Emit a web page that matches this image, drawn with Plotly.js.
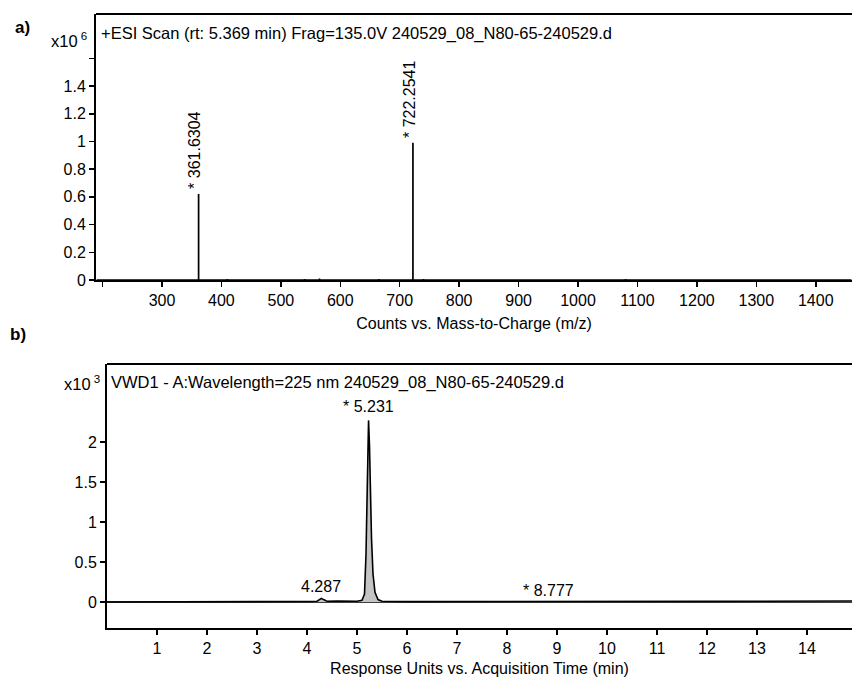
<!DOCTYPE html>
<html>
<head>
<meta charset="utf-8">
<script src="https://cdn.plot.ly/plotly-3.0.1.min.js"></script>
<style>html,body{margin:0;padding:0;background:#fff;}#chart{width:852px;height:684px;}</style>
</head>
<body>
<div id="chart"></div>
<script>
// ---- Panel a: mass spectrum (x10^6 counts) ----
const msPeakMz = [361.6304, 722.2541];
const msPeakInt = [0.62, 0.99];
const msPeakLabels = ["361.6304", "722.2541"];
const msNoiseMz = [230, 275, 410, 455, 540, 565, 620, 665, 740, 920, 1080, 1390];
const msNoiseInt = [0.006, 0.005, 0.008, 0.006, 0.007, 0.01, 0.006, 0.007, 0.008, 0.006, 0.007, 0.006];
const msTickVals = [0, 0.2, 0.4, 0.6, 0.8, 1, 1.2, 1.4];
const msMinorY = [1.6];
const msXTicks = [300, 400, 500, 600, 700, 800, 900, 1000, 1100, 1200, 1300, 1400];
const msMinorX = [200];

// ---- Panel b: UV chromatogram (x10^3 response units) ----
const lcTime = [0, 1, 2, 3, 3.5, 4.0, 4.2, 4.25, 4.287, 4.33, 4.4, 4.6, 4.8, 5.0, 5.1, 5.15, 5.18, 5.2, 5.215, 5.231, 5.25, 5.27, 5.29, 5.32, 5.36, 5.42, 5.5, 6, 7, 8, 8.777, 9, 10, 11, 12, 13, 14, 15];
const lcResp = [0, 0, 0, 0.003, 0.005, 0.006, 0.01, 0.03, 0.045, 0.03, 0.01, 0.012, 0.008, 0.01, 0.02, 0.1, 0.6, 1.5, 2.05, 2.27, 1.95, 1.35, 0.8, 0.35, 0.12, 0.03, 0.01, 0.005, 0.004, 0.004, 0.008, 0.006, 0.004, 0.006, 0.008, 0.01, 0.014, 0.012];
const lcPeakTimes = [4.287, 5.231, 8.777];
const lcPeakLabels = ["4.287", "* 5.231", "* 8.777"];
const lcPeakLabelY = [0.2, 2.45, 0.15];
const lcYTicks = [0, 0.5, 1, 1.5, 2];
const lcXTicks = [1, 2, 3, 4, 5, 6, 7, 8, 9, 10, 11, 12, 13, 14];

// build stick spectrum
const sx = [], sy = [];
const allMz = msNoiseMz.concat(msPeakMz), allInt = msNoiseInt.concat(msPeakInt);
const order = allMz.map((m, i) => i).sort((a, b) => allMz[a] - allMz[b]);
sx.push(190); sy.push(0);
order.forEach(i => { sx.push(allMz[i], allMz[i], allMz[i]); sy.push(0, allInt[i], 0); });
sx.push(1460); sy.push(0);

const W = 852, H = 684;
const px = v => v / W, py = v => 1 - v / H;
const FONT = "Liberation Sans, Arial, sans-serif";

const traces = [
  {x: sx, y: sy, type: "scatter", mode: "lines", line: {color: "#000", width: 1.7}, xaxis: "x", yaxis: "y", hoverinfo: "skip", showlegend: false},
  {x: lcTime, y: lcResp, type: "scatter", mode: "lines", fill: "tozeroy", fillcolor: "#c4c4c4", line: {color: "#000", width: 1.6}, xaxis: "x2", yaxis: "y2", showlegend: false}
];

const annotations = [
  {text: "<b>a)</b>", xref: "paper", yref: "paper", x: px(13), y: py(27), xanchor: "left", yanchor: "middle", showarrow: false, font: {size: 17, family: FONT, color: "#000"}},
  {text: "<b>b)</b>", xref: "paper", yref: "paper", x: px(8), y: py(335), xanchor: "left", yanchor: "middle", showarrow: false, font: {size: 17, family: FONT, color: "#000"}},
  {text: "x10<sup> 6</sup>", xref: "paper", yref: "paper", x: px(89), y: py(40), xanchor: "right", yanchor: "middle", showarrow: false, font: {size: 16.5, family: FONT, color: "#000"}},
  {text: "x10<sup> 3</sup>", xref: "paper", yref: "paper", x: px(102), y: py(383), xanchor: "right", yanchor: "middle", showarrow: false, font: {size: 16.5, family: FONT, color: "#000"}},
  {text: "+ESI Scan (rt: 5.369 min) Frag=135.0V 240529_08_N80-65-240529.d", xref: "paper", yref: "paper", x: px(99), y: py(33), xanchor: "left", yanchor: "middle", showarrow: false, font: {size: 16.5, family: FONT, color: "#000"}},
  {text: "VWD1 - A:Wavelength=225 nm 240529_08_N80-65-240529.d", xref: "paper", yref: "paper", x: px(109), y: py(382), xanchor: "left", yanchor: "middle", showarrow: false, font: {size: 16.5, family: FONT, color: "#000"}}
];
msPeakMz.forEach((m, i) => annotations.push({
  text: "* " + msPeakLabels[i], xref: "x", yref: "y", x: m, y: msPeakInt[i] + 0.02, textangle: -90,
  xanchor: "center", yanchor: "bottom", xshift: -4, showarrow: false, font: {size: 16, family: FONT, color: "#000"}
}));
lcPeakTimes.forEach((t, i) => annotations.push({
  text: lcPeakLabels[i], xref: "x2", yref: "y2", x: t, y: lcPeakLabelY[i],
  xanchor: "center", yanchor: "middle", xshift: i === 2 ? 3 : 0, showarrow: false, font: {size: 16, family: FONT, color: "#000"}
}));

const axisCommon = {showgrid: false, zeroline: false, showline: true, linecolor: "#000", linewidth: 2, ticks: "outside", ticklen: 5, tickwidth: 1.5, tickcolor: "#000", tickfont: {size: 16, family: FONT, color: "#000"}, fixedrange: true};
const minorCommon = {ticks: "outside", ticklen: 5, tickwidth: 1.5, tickcolor: "#000", showgrid: false};

const layout = {
  width: W, height: H, margin: {l: 0, r: 0, t: 0, b: 0}, paper_bgcolor: "#fff", plot_bgcolor: "#fff",
  font: {family: FONT, color: "#000"},
  xaxis: Object.assign({}, axisCommon, {domain: [px(96), 1], range: [189, 1461], anchor: "y", tickmode: "array", tickvals: msXTicks,
    minor: Object.assign({tickmode: "array", tickvals: msMinorX}, minorCommon),
    title: {text: "Counts vs. Mass-to-Charge (m/z)", font: {size: 16, family: FONT, color: "#000"}, standoff: 10}}),
  yaxis: Object.assign({}, axisCommon, {domain: [py(280), py(14)], range: [0, 1.92], anchor: "x", tickmode: "array", tickvals: msTickVals,
    minor: Object.assign({tickmode: "array", tickvals: msMinorY}, minorCommon)}),
  xaxis2: Object.assign({}, axisCommon, {domain: [px(107), 1], range: [0, 14.9], anchor: "y2", tickmode: "array", tickvals: lcXTicks,
    title: {text: "Response Units vs. Acquisition Time (min)", font: {size: 16, family: FONT, color: "#000"}, standoff: 7}}),
  yaxis2: Object.assign({}, axisCommon, {domain: [py(628), py(364)], range: [-0.325, 2.975], anchor: "x2", tickmode: "array", tickvals: lcYTicks}),
  shapes: [
    {type: "line", xref: "paper", yref: "paper", x0: px(96), x1: 1, y0: py(14), y1: py(14), line: {color: "#000", width: 2}},
    {type: "line", xref: "paper", yref: "paper", x0: px(107), x1: 1, y0: py(364), y1: py(364), line: {color: "#000", width: 2}},
    {type: "line", xref: "x2", yref: "y2", x0: 0, x1: 14.9, y0: 0, y1: 0, line: {color: "#000", width: 1.4}, layer: "below"}
  ],
  annotations: annotations
};

Plotly.newPlot("chart", traces, layout, {displayModeBar: false, staticPlot: true});
</script>
</body>
</html>
